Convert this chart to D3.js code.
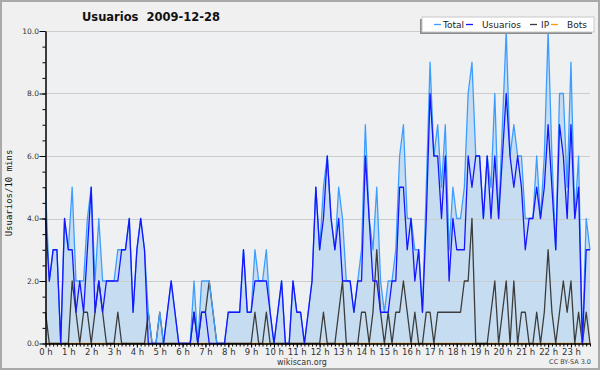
<!DOCTYPE html>
<html>
<head>
<meta charset="utf-8">
<script src="https://cdn.jsdelivr.net/npm/d3@7"></script>
<style>
  body { margin: 0; background: #fff; }
  svg { display: block; font-family: "DejaVu Sans", sans-serif; }
</style>
</head>
<body>
<script>
// 10-minute slots, 144 per day
const hourLabels = ["0 h","1 h","2 h","3 h","4 h","5 h","6 h","7 h","8 h","9 h","10 h","11 h",
  "12 h","13 h","14 h","15 h","16 h","17 h","18 h","19 h","20 h","21 h","22 h","23 h"];
const yTicks = [0, 2, 4, 6, 8, 10];

const total = [5,2,3,3,0,4,3,5,2,2,2,4, 5,2,4,2,2,2,2,3,3,3,4,1, 3,4,3,1,0,0,1,0,1,2,1,0,
  0,0,0,2,0,2,2,2,1,0,0,0, 1,1,1,1,3,1,1,3,2,2,3,1, 0,1,2,0,0,2,1,1,0,1,2,5,
  3,5,6,4,3,5,4,2,2,1,2,3, 7,4,3,5,2,1,2,2,3,6,7,4, 4,3,3,1,5,9,6,7,5,7,3,5,
  4,4,5,8,9,6,6,4,6,5,8,4, 7,10,6,7,6,6,4,4,4,6,4,6, 10,6,3,8,8,5,9,4,6,0,4,3];
const usuarios = [4,2,3,3,0,4,3,3,1,2,1,3, 5,1,2,1,2,2,2,2,3,3,4,1, 3,4,3,0,0,0,0,0,1,2,1,0,
  0,0,0,1,0,1,1,0,0,0,0,0, 1,1,1,1,3,1,1,2,2,2,2,1, 0,1,2,0,0,2,1,1,0,1,2,5,
  3,4,6,4,3,4,2,2,2,1,2,2, 6,4,2,2,1,1,1,2,2,5,5,3, 4,2,3,1,4,8,6,6,4,6,2,4,
  3,3,3,6,5,6,6,4,6,4,6,4, 6,8,6,5,6,5,3,4,4,5,4,5, 7,5,3,7,6,4,7,4,5,0,3,3];
const ip = [1,0,0,0,0,0,0,2,1,0,1,1, 0,1,2,1,0,0,0,1,0,0,0,0, 0,0,0,1,0,0,1,0,0,0,0,0,
  0,0,0,1,0,1,1,2,1,0,0,0, 0,0,0,0,0,0,0,1,0,0,1,0, 0,0,0,0,0,0,0,0,0,0,0,0,
  0,1,0,0,0,1,2,0,0,0,0,1, 1,0,1,3,1,0,1,0,1,1,2,1, 0,1,0,0,1,1,0,1,1,1,1,1,
  1,1,2,2,4,0,0,0,0,1,2,0, 1,2,0,2,0,1,1,0,0,1,0,1, 3,1,0,1,2,1,2,0,1,0,1,0];
const bots = [0,0,0,0,0,0,0,0,0,0,0,0, 0,0,0,0,0,0,0,0,0,0,0,0, 0,0,0,0,0,0,0,0,0,0,0,0,
  0,0,0,0,0,0,0,0,0,0,0,0, 0,0,0,0,0,0,0,0,0,0,0,0, 0,0,0,0,0,0,0,0,0,0,0,0,
  0,0,0,0,0,0,0,0,0,0,0,0, 0,0,0,0,0,0,0,0,0,0,0,0, 0,0,0,0,0,0,0,0,0,0,0,0,
  0,0,0,0,0,0,0,0,0,0,0,0, 0,0,0,0,0,0,0,0,0,0,0,0, 0,0,0,0,0,0,0,0,0,0,0,0];

const W = 600, H = 370;
const m = { left: 45.5, right: 590, top: 31, bottom: 343.5 };

const svg = d3.select("body").append("svg").attr("width", W).attr("height", H);

// page background + frame
svg.append("rect").attr("x", 1).attr("y", 1).attr("width", W - 2).attr("height", H - 2)
  .attr("fill", "#f0f0f0").attr("stroke", "#a9a9a9").attr("stroke-width", 2);
svg.append("rect").attr("x", m.left).attr("y", m.top).attr("width", m.right - m.left).attr("height", m.bottom - m.top)
  .attr("fill", "#eff0f2");

const x = d3.scaleLinear().domain([0, total.length - 1]).range([m.left, m.right]);
const y = d3.scaleLinear().domain([0, 10]).range([m.bottom, m.top]);

// Total area
svg.append("path").datum(total)
  .attr("fill", "#c6ddf1")
  .attr("d", d3.area().x((d, i) => x(i)).y0(y(0)).y1(d => y(d)));

// grid
svg.append("g").selectAll("line").data(yTicks.slice(1)).join("line")
  .attr("x1", m.left).attr("x2", m.right)
  .attr("y1", d => Math.round(y(d)) + 0.5).attr("y2", d => Math.round(y(d)) + 0.5)
  .attr("stroke", "#cccccc").attr("stroke-width", 1);

const line = d3.line().x((d, i) => x(i)).y(d => y(d));
const series = [
  { name: "Bots", values: bots, color: "#ff9900" },
  { name: "IP", values: ip, color: "#3c3c3c" },
  { name: "Total", values: total, color: "#3d9dff" },
  { name: "Usuarios", values: usuarios, color: "#1515ff" },
];
svg.append("g").selectAll("path").data(series).join("path")
  .attr("fill", "none")
  .attr("stroke", d => d.color)
  .attr("stroke-width", 1.3)
  .attr("stroke-linejoin", "round")
  .attr("d", d => line(d.values));

// y axis
const yAxis = svg.append("g").attr("transform", `translate(${m.left},0)`)
  .call(d3.axisLeft(y).tickValues(yTicks).tickSize(6).tickSizeOuter(0).tickFormat(d3.format(".1f")));
svg.append("g").attr("transform", `translate(${m.left},0)`)
  .call(d3.axisLeft(y).tickValues(d3.range(0, 10.01, 0.5)).tickSize(3).tickFormat(""))
  .call(g => g.select(".domain").remove());
yAxis.selectAll("text").attr("font-size", 7.5).attr("fill", "#333").attr("x", -6.5).attr("font-family", "DejaVu Sans");

// x axis
const hourIdx = hourLabels.map((h, k) => k * 6);
const xAxis = svg.append("g").attr("transform", `translate(0,${m.bottom})`)
  .call(d3.axisBottom(x).tickValues(hourIdx).tickSize(4).tickSizeOuter(0).tickFormat((d, k) => hourLabels[k]));
svg.append("g").attr("transform", `translate(0,${m.bottom})`)
  .call(d3.axisBottom(x).tickValues(d3.range(0, total.length)).tickSize(3).tickFormat(""))
  .call(g => g.select(".domain").remove());
xAxis.selectAll("text").attr("font-size", 8.5).attr("fill", "#333").attr("y", 5).attr("font-family", "DejaVu Sans");
svg.selectAll(".domain").attr("stroke-width", 1.5);

// title
svg.append("text").attr("x", 151).attr("y", 21).attr("text-anchor", "middle")
  .attr("font-size", 11.5).attr("font-weight", "bold").attr("fill", "#111")
  .attr("xml:space", "preserve").text("Usuarios  2009-12-28");

// y label
svg.append("text").attr("transform", "translate(12,193) rotate(-90)")
  .attr("text-anchor", "middle").attr("font-size", 9).attr("fill", "#111")
  .attr("font-family", "DejaVu Sans Mono").text("Usuarios/10 mins");

// footer
svg.append("text").attr("x", 302).attr("y", 365).attr("text-anchor", "middle")
  .attr("font-size", 8).attr("fill", "#333").text("wikiscan.org");
svg.append("text").attr("x", 591).attr("y", 364).attr("text-anchor", "end")
  .attr("font-size", 6.5).attr("fill", "#444").text("CC BY-SA 3.0");

// legend
const lg = svg.append("g");
lg.append("rect").attr("x", 420).attr("y", 19).attr("width", 172).attr("height", 15).attr("fill", "#8c8c8c");
lg.append("rect").attr("x", 422).attr("y", 17).attr("width", 172).attr("height", 15)
  .attr("fill", "#fff").attr("stroke", "#c8c8c8");
const legendItems = [
  { name: "Total", color: "#3d9dff", lx: 434, tx: 443 },
  { name: "Usuarios", color: "#1515ff", lx: 466, tx: 482 },
  { name: "IP", color: "#3c3c3c", lx: 530, tx: 541 },
  { name: "Bots", color: "#ff9900", lx: 551, tx: 567 },
];
const li = lg.selectAll("g.item").data(legendItems).join("g").attr("class", "item");
li.append("line").attr("x1", d => d.lx).attr("x2", d => d.lx + 7).attr("y1", 24.5).attr("y2", 24.5)
  .attr("stroke", d => d.color).attr("stroke-width", 1.3);
li.append("text").attr("x", d => d.tx).attr("y", 28).attr("font-size", 9).attr("fill", "#222").text(d => d.name);
</script>
</body>
</html>
